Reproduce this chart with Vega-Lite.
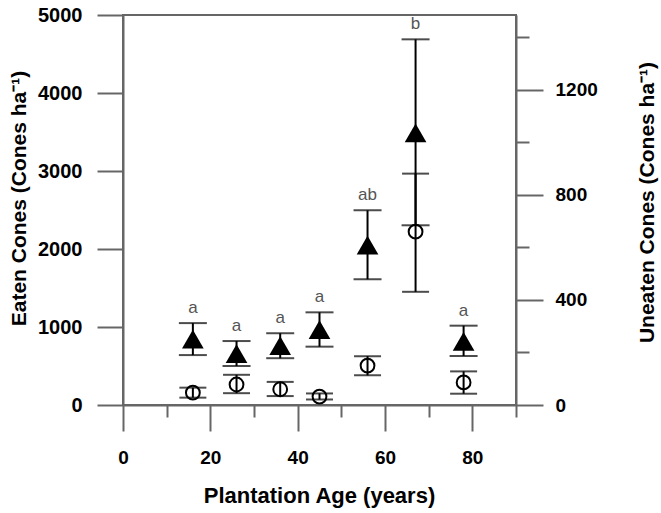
{
  "$schema": "https://vega.github.io/schema/vega-lite/v6.json",
  "width": 393,
  "height": 390,
  "autosize": "none",
  "padding": {"left": 123, "top": 15, "right": 145, "bottom": 108},
  "background": "white",
  "data": {
    "values": [
      {"age": 16, "eaten": 845, "eaten_lo": 640, "eaten_hi": 1050, "letter": "a", "uneaten": 47, "uneaten_lo": 28, "uneaten_hi": 66},
      {"age": 26, "eaten": 660, "eaten_lo": 500, "eaten_hi": 820, "letter": "a", "uneaten": 78, "uneaten_lo": 45, "uneaten_hi": 115},
      {"age": 36, "eaten": 760, "eaten_lo": 600, "eaten_hi": 920, "letter": "a", "uneaten": 60, "uneaten_lo": 34, "uneaten_hi": 88},
      {"age": 45, "eaten": 965, "eaten_lo": 748, "eaten_hi": 1188, "letter": "a", "uneaten": 32, "uneaten_lo": 21, "uneaten_hi": 44},
      {"age": 56, "eaten": 2050, "eaten_lo": 1612, "eaten_hi": 2496, "letter": "ab", "uneaten": 150, "uneaten_lo": 113, "uneaten_hi": 186},
      {"age": 67, "eaten": 3490, "eaten_lo": 2304, "eaten_hi": 4688, "letter": "b", "uneaten": 660, "uneaten_lo": 431, "uneaten_hi": 881},
      {"age": 78, "eaten": 815, "eaten_lo": 628, "eaten_hi": 1017, "letter": "a", "uneaten": 86, "uneaten_lo": 43, "uneaten_hi": 128}
    ]
  },
  "config": {
    "view": {"stroke": "#666", "strokeWidth": 2},
    "axis": {
      "grid": false,
      "labelFont": "Liberation Sans",
      "labelFontWeight": "bold",
      "labelFontSize": 19,
      "labelColor": "black",
      "titleFont": "Liberation Sans",
      "titleFontWeight": "bold",
      "titleFontSize": 21,
      "titleColor": "black",
      "domainColor": "#666",
      "domainWidth": 2,
      "tickColor": "#666",
      "tickWidth": 2
    }
  },
  "layer": [
    {
      "layer": [
        {
          "mark": {"type": "rule", "color": "black", "strokeWidth": 2},
          "encoding": {
            "x": {
              "field": "age", "type": "quantitative",
              "scale": {"domain": [0, 90], "nice": false, "zero": false},
              "axis": {
                "orient": "bottom",
                "values": [0, 10, 20, 30, 40, 50, 60, 70, 80, 90],
                "labelExpr": "datum.value % 20 === 0 && datum.value < 90 ? datum.label : ''",
                "tickSize": {"condition": {"test": "datum.value % 20 === 0", "value": 26}, "value": 12},
                "labelPadding": 17,
                "labelFlush": false,
                "title": "Plantation Age (years)",
                "titleFontSize": 22,
                "titleX": 196,
                "titleY": 97,
                "titleBaseline": "alphabetic",
                "titleAnchor": "middle"
              }
            },
            "y": {
              "field": "eaten_lo", "type": "quantitative",
              "scale": {"domain": [0, 5000], "nice": false},
              "axis": {
                "orient": "left",
                "values": [0, 500, 1000, 1500, 2000, 2500, 3000, 3500, 4000, 4500, 5000],
                "labelExpr": "datum.value % 1000 === 0 ? datum.label : ''",
                "format": "d",
                "labelFontSize": 20,
                "tickSize": {"condition": {"test": "datum.value % 1000 === 0", "value": 26}, "value": 6},
                "labelPadding": 15,
                "labelFlush": false,
                "title": "Eaten Cones (Cones ha⁻¹)",
                "titleAngle": -90,
                "titleX": -98,
                "titleY": 183,
                "titleAlign": "center",
                "titleBaseline": "alphabetic"
              }
            },
            "y2": {"field": "eaten_hi"}
          }
        },
        {
          "mark": {"type": "tick", "orient": "horizontal", "color": "black", "size": 28, "thickness": 2},
          "encoding": {
            "x": {"field": "age", "type": "quantitative"},
            "y": {"field": "eaten_lo", "type": "quantitative"}
          }
        },
        {
          "mark": {"type": "tick", "orient": "horizontal", "color": "black", "size": 28, "thickness": 2},
          "encoding": {
            "x": {"field": "age", "type": "quantitative"},
            "y": {"field": "eaten_hi", "type": "quantitative"}
          }
        },
        {
          "mark": {"type": "point", "shape": "triangle-up", "filled": true, "color": "black", "size": 470, "opacity": 1},
          "encoding": {
            "x": {"field": "age", "type": "quantitative"},
            "y": {"field": "eaten", "type": "quantitative"}
          }
        },
        {
          "mark": {"type": "text", "font": "Liberation Sans", "fontSize": 17, "color": "#555", "baseline": "alphabetic", "dy": -10},
          "encoding": {
            "x": {"field": "age", "type": "quantitative"},
            "y": {"field": "eaten_hi", "type": "quantitative"},
            "text": {"field": "letter"}
          }
        }
      ]
    },
    {
      "layer": [
        {
          "mark": {"type": "rule", "color": "black", "strokeWidth": 2},
          "encoding": {
            "x": {"field": "age", "type": "quantitative"},
            "y": {
              "field": "uneaten_lo", "type": "quantitative",
              "scale": {"domain": [0, 1485], "nice": false},
              "axis": {
                "orient": "right",
                "values": [0, 200, 400, 600, 800, 1000, 1200, 1400],
                "labelExpr": "datum.value % 400 === 0 ? datum.label : ''",
                "format": "d",
                "tickSize": {"condition": {"test": "datum.value % 400 === 0", "value": 27}, "value": 13},
                "labelPadding": 12,
                "labelFlush": false,
                "title": "Uneaten Cones  (Cones ha⁻¹)",
                "titleAngle": -90,
                "titleX": 137,
                "titleY": 187,
                "titleAlign": "center",
                "titleBaseline": "alphabetic"
              }
            },
            "y2": {"field": "uneaten_hi"}
          }
        },
        {
          "mark": {"type": "tick", "orient": "horizontal", "color": "black", "size": 27, "thickness": 2},
          "encoding": {
            "x": {"field": "age", "type": "quantitative"},
            "y": {"field": "uneaten_lo", "type": "quantitative"}
          }
        },
        {
          "mark": {"type": "tick", "orient": "horizontal", "color": "black", "size": 27, "thickness": 2},
          "encoding": {
            "x": {"field": "age", "type": "quantitative"},
            "y": {"field": "uneaten_hi", "type": "quantitative"}
          }
        },
        {
          "mark": {"type": "point", "shape": "circle", "filled": false, "color": "black", "strokeWidth": 2, "size": 190, "opacity": 1},
          "encoding": {
            "x": {"field": "age", "type": "quantitative"},
            "y": {"field": "uneaten", "type": "quantitative"}
          }
        }
      ]
    }
  ],
  "resolve": {"scale": {"y": "independent"}}
}
